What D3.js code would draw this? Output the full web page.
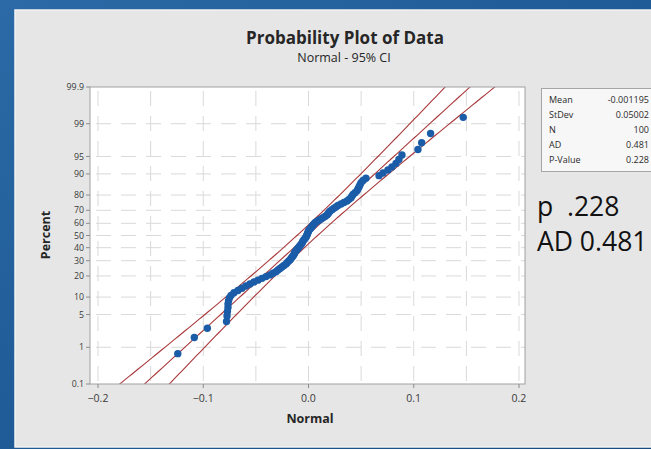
<!DOCTYPE html>
<html>
<head>
<meta charset="utf-8">
<script src="https://cdn.jsdelivr.net/npm/d3@7"></script>
<style>
  html, body { margin: 0; padding: 0; overflow: hidden; background: #1d5a94; }
  svg { display: block; }
</style>
</head>
<body>
<svg id="chart" width="651" height="449"></svg>
<script>
// Sorted sample values (n = 100)
const values = [
  -0.1242, -0.1085, -0.0961, -0.0779, -0.0774, -0.0770, -0.0765, -0.0765, -0.0760, -0.0751,
  -0.0736, -0.0708, -0.0670, -0.0632, -0.0594, -0.0556, -0.0518, -0.0480, -0.0442, -0.0404,
  -0.0366, -0.0337, -0.0309, -0.0290, -0.0271, -0.0252, -0.0233, -0.0214, -0.0204, -0.0190,
  -0.0176, -0.0166, -0.0157, -0.0147, -0.0138, -0.0133, -0.0128, -0.0119, -0.0109, -0.0100,
  -0.0090, -0.0081, -0.0071, -0.0062, -0.0057, -0.0052, -0.0043, -0.0033, -0.0024, -0.0019,
  -0.0014, -0.0010, -0.0005, 0.0000, 0.0005, 0.0014, 0.0024, 0.0033, 0.0043, 0.0052,
  0.0062, 0.0081, 0.0100, 0.0119, 0.0138, 0.0157, 0.0176, 0.0185, 0.0195, 0.0204,
  0.0223, 0.0242, 0.0261, 0.0280, 0.0309, 0.0337, 0.0366, 0.0385, 0.0404, 0.0413,
  0.0423, 0.0442, 0.0461, 0.0470, 0.0480, 0.0489, 0.0499, 0.0518, 0.0546, 0.0670,
  0.0708, 0.0755, 0.0793, 0.0831, 0.0859, 0.0888, 0.1040, 0.1075, 0.1160, 0.1470
];

// Fitted normal parameters and goodness-of-fit results
const fitMean = -0.001195;
const fitStDev = 0.05002;
const sampleN = 100;
const adStat = 0.481;
const pValue = 0.228;

const statLabels = ["Mean", "StDev", "N", "AD", "P-Value"];
const statValues = ["-0.001195", "0.05002", "100", "0.481", "0.228"];

// Axis ticks
const percentTicks = [0.1, 1, 5, 10, 20, 30, 40, 50, 60, 70, 80, 90, 95, 99, 99.9];
const percentLabels = ["0.1", "1", "5", "10", "20", "30", "40", "50", "60", "70", "80", "90", "95", "99", "99.9"];
const xTicks = [-0.2, -0.1, 0.0, 0.1, 0.2];
const xGridLines = [-0.2, -0.15, -0.1, -0.05, 0.0, 0.05, 0.1, 0.15, 0.2];

// Inverse standard normal CDF (Acklam's rational approximation)
function probit(p) {
  const a = [-3.969683028665376e+01, 2.209460984245205e+02, -2.759285104469687e+02,
             1.383577518672690e+02, -3.066479806614716e+01, 2.506628277459239e+00];
  const b = [-5.447609879822406e+01, 1.615858368580409e+02, -1.556989798598866e+02,
             6.680131188771972e+01, -1.328068155288572e+01];
  const c = [-7.784894002430293e-03, -3.223964580411365e-01, -2.400758277161838e+00,
             -2.549732539343734e+00, 4.374664141464968e+00, 2.938163982698783e+00];
  const d = [7.784695709041462e-03, 3.224671290700398e-01, 2.445134137142996e+00,
             3.754408661907416e+00];
  const pl = 0.02425;
  let q, r;
  if (p < pl) {
    q = Math.sqrt(-2 * Math.log(p));
    return (((((c[0]*q + c[1])*q + c[2])*q + c[3])*q + c[4])*q + c[5]) /
           ((((d[0]*q + d[1])*q + d[2])*q + d[3])*q + 1);
  }
  if (p > 1 - pl) {
    q = Math.sqrt(-2 * Math.log(1 - p));
    return -(((((c[0]*q + c[1])*q + c[2])*q + c[3])*q + c[4])*q + c[5]) /
            ((((d[0]*q + d[1])*q + d[2])*q + d[3])*q + 1);
  }
  q = p - 0.5; r = q * q;
  return (((((a[0]*r + a[1])*r + a[2])*r + a[3])*r + a[4])*r + a[5])*q /
         (((((b[0]*r + b[1])*r + b[2])*r + b[3])*r + b[4])*r + 1);
}

const W = 651, H = 449;
const plot = { left: 90, right: 525, top: 87, bottom: 384 };
const font = "'Open Sans', 'Noto Sans', sans-serif";

const svg = d3.select("#chart");

// Slide background
const defs = svg.append("defs");
const bg = defs.append("linearGradient").attr("id", "slideBg")
  .attr("x1", "0").attr("y1", "0").attr("x2", "1").attr("y2", "1");
bg.append("stop").attr("offset", "0%").attr("stop-color", "#2b6aa6");
bg.append("stop").attr("offset", "50%").attr("stop-color", "#1f5b96");
bg.append("stop").attr("offset", "100%").attr("stop-color", "#174b80");
svg.append("rect").attr("width", W).attr("height", H).attr("fill", "url(#slideBg)");

// Graph panel
svg.append("rect")
  .attr("x", 15).attr("y", 10).attr("width", W - 14).attr("height", 437)
  .attr("fill", "#e6e6e6").attr("stroke", "#f2f2f2").attr("stroke-width", 1.5);

// Scales: linear data axis, probability (normal quantile) percent axis
const x = d3.scaleLinear().domain([-0.2, 0.2]).range([98, 519]);
const zLo = probit(0.001), zHi = probit(0.999);
const yz = d3.scaleLinear().domain([zLo, zHi]).range([plot.bottom, plot.top]);
const yPct = pct => yz(probit(pct / 100));

// Data region
svg.append("rect")
  .attr("x", plot.left).attr("y", plot.top)
  .attr("width", plot.right - plot.left).attr("height", plot.bottom - plot.top)
  .attr("fill", "#ffffff");

defs.append("clipPath").attr("id", "plotClip").append("rect")
  .attr("x", plot.left).attr("y", plot.top)
  .attr("width", plot.right - plot.left).attr("height", plot.bottom - plot.top);

// Gridlines
const grid = svg.append("g").attr("stroke", "#d9d9d9").attr("stroke-width", 1)
  .attr("stroke-dasharray", "15,10");
grid.selectAll("line.v").data(xGridLines).join("line").attr("class", "v")
  .attr("x1", d => x(d)).attr("x2", d => x(d))
  .attr("y1", plot.top + 4).attr("y2", plot.bottom);
grid.selectAll("line.h").data(percentTicks.filter(d => d > 0.1 && d < 99.9)).join("line").attr("class", "h")
  .attr("y1", d => yPct(d)).attr("y2", d => yPct(d))
  .attr("x1", plot.left + 6).attr("x2", plot.right);

// Fitted line with 95% confidence bands
const zSteps = d3.range(0, 121).map(i => zLo - 0.3 + (zHi - zLo + 0.6) * i / 120);
const band = k => zSteps.map(z => {
  const center = fitMean + z * fitStDev;
  const half = 1.96 * fitStDev * Math.sqrt((1 + z * z / 2) / sampleN);
  return [x(center + k * half), yz(z)];
});
const lineGen = d3.line();
const fitG = svg.append("g").attr("clip-path", "url(#plotClip)")
  .attr("fill", "none").attr("stroke", "#a8383a").attr("stroke-width", 1.1);
[-1, 0, 1].forEach(k => fitG.append("path").attr("d", lineGen(band(k))));

// Sample points at median-rank plotting positions
const pts = values.map((v, i) => ({ v, p: 100 * (i + 1 - 0.3) / (sampleN + 0.4) }));
svg.append("g").attr("clip-path", "url(#plotClip)")
  .selectAll("circle").data(pts).join("circle")
  .attr("cx", d => x(d.v)).attr("cy", d => yPct(d.p)).attr("r", 3.7)
  .attr("fill", "#1a5ca8");

// Frame
svg.append("rect")
  .attr("x", plot.left).attr("y", plot.top)
  .attr("width", plot.right - plot.left).attr("height", plot.bottom - plot.top)
  .attr("fill", "none").attr("stroke", "#a0a0a0").attr("stroke-width", 1);

// Percent axis
const yAxis = svg.append("g").attr("font-family", font)
  .attr("font-size", 8.8).attr("fill", "#3a3a3a");
yAxis.selectAll("line").data(percentTicks).join("line")
  .attr("x1", plot.left - 4).attr("x2", plot.left)
  .attr("y1", d => yPct(d)).attr("y2", d => yPct(d))
  .attr("stroke", "#8c8c8c");
yAxis.selectAll("text").data(percentTicks).join("text")
  .attr("x", plot.left - 6).attr("y", d => yPct(d)).attr("dy", "0.35em")
  .attr("text-anchor", "end")
  .text((d, i) => percentLabels[i]);

// Data axis
const xAxis = svg.append("g").attr("font-family", font)
  .attr("font-size", 10.5).attr("fill", "#3a3a3a");
xAxis.selectAll("line").data(xTicks).join("line")
  .attr("x1", d => x(d)).attr("x2", d => x(d))
  .attr("y1", plot.bottom).attr("y2", plot.bottom + 4)
  .attr("stroke", "#8c8c8c");
xAxis.selectAll("text").data(xTicks).join("text")
  .attr("x", d => x(d)).attr("y", plot.bottom + 18)
  .attr("text-anchor", "middle")
  .text(d => d3.format(".1f")(d));

// Titles
svg.append("text").attr("x", 345).attr("y", 44).attr("text-anchor", "middle")
  .attr("font-family", font).attr("font-weight", 700).attr("font-size", 17)
  .attr("fill", "#262626").text("Probability Plot of Data");
svg.append("text").attr("x", 344).attr("y", 62).attr("text-anchor", "middle")
  .attr("font-family", font).attr("font-size", 12.5)
  .attr("fill", "#262626").text("Normal - 95% CI");
svg.append("text").attr("x", 310).attr("y", 423).attr("text-anchor", "middle")
  .attr("font-family", font).attr("font-weight", 700).attr("font-size", 12.5)
  .attr("fill", "#262626").text("Normal");
svg.append("text").attr("transform", "translate(50,235) rotate(-90)")
  .attr("text-anchor", "middle")
  .attr("font-family", font).attr("font-weight", 700).attr("font-size", 12.5)
  .attr("fill", "#262626").text("Percent");

// Statistics table
svg.append("rect").attr("x", 541.5).attr("y", 88.5).attr("width", 120).attr("height", 83)
  .attr("fill", "#f7f7f7").attr("stroke", "#a6a6a6");
const table = svg.append("g").attr("font-family", font).attr("font-size", 9).attr("fill", "#2a2a2a");
table.selectAll("text.k").data(statLabels).join("text").attr("class", "k")
  .attr("x", 549).attr("y", (d, i) => 103 + i * 15).text(d => d);
table.selectAll("text.v").data(statValues).join("text").attr("class", "v")
  .attr("x", 649).attr("y", (d, i) => 103 + i * 15).attr("text-anchor", "end").text(d => d);

// Annotation of the test results
const note = svg.append("g").attr("font-family", font).attr("font-size", 26.5)
  .attr("fill", "#111111");
note.append("text").attr("x", 537).attr("y", 216)
  .text("p\u00A0\u00A0" + d3.format(".3f")(pValue).replace(/^0/, ""));
note.append("text").attr("x", 537).attr("y", 251)
  .text("AD " + d3.format(".3f")(adStat));
</script>
</body>
</html>
